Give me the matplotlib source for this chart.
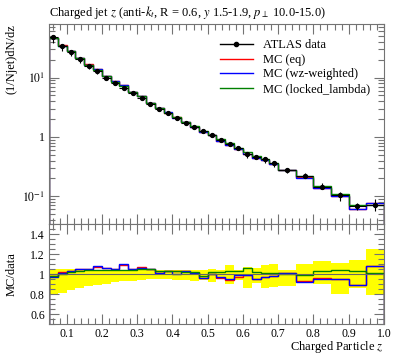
import numpy as np
import matplotlib
matplotlib.use("Agg")
import matplotlib.pyplot as plt
from matplotlib.lines import Line2D
from matplotlib.ticker import FixedLocator, FixedFormatter, MultipleLocator, LogLocator, NullFormatter

plt.rcParams['font.family'] = ['Liberation Serif', 'DejaVu Serif']
plt.rcParams['mathtext.fontset'] = 'stix'

# bin edges: 0.025 wide up to 0.7, then 0.05 wide
edges = np.array([0.05 + 0.025 * i for i in range(27)] + [0.75, 0.8, 0.85, 0.9, 0.95, 1.0])

# data (1/Njet) dN/dz
data = np.array([48, 34.4, 27.5, 20.5, 15.8, 13.0, 10.0, 8.2, 6.8, 5.4, 4.6, 3.6, 3.0,
                 2.5, 2.1, 1.73, 1.48, 1.26, 1.07, 0.90, 0.77, 0.64, 0.52, 0.465, 0.42, 0.36,
                 0.28, 0.224, 0.146, 0.106, 0.068, 0.072])

# relative data uncertainty band (lower / upper edge of ratio)
band_lo = np.array([0.79, 0.81, 0.84, 0.86, 0.885, 0.895, 0.905, 0.92, 0.93, 0.93, 0.937, 0.948, 0.955,
                    0.948, 0.94, 0.937, 0.93, 0.945, 0.925, 0.95, 0.90, 0.94, 0.86, 0.914, 0.86, 0.87,
                    0.88, 0.93, 0.90, 0.80, 0.86, 0.794])
band_hi = np.array([1.05, 1.05, 1.05, 1.05, 1.045, 1.04, 1.04, 1.04, 1.04, 1.04, 1.04, 1.04, 1.04,
                    1.04, 1.04, 1.045, 1.045, 1.045, 1.05, 1.045, 1.086, 1.04, 1.07, 1.06, 1.093, 1.10,
                    1.04, 1.10, 1.127, 1.11, 1.144, 1.25])

# MC / data ratios
r_eq = np.array([0.983, 1.017, 1.034, 1.05, 1.055, 1.07, 1.06, 1.05, 1.086, 1.055, 1.07, 1.055, 1.01,
                 1.03, 1.027, 1.027, 1.01, 0.965, 1.0, 0.96, 0.94, 0.975, 0.99, 0.95, 0.966, 0.98,
                 1.007, 0.93, 0.96, 0.95, 0.89, 1.076])
r_wz = np.array([0.973, 1.007, 1.027, 1.05, 1.05, 1.08, 1.06, 1.05, 1.096, 1.05, 1.06, 1.05, 1.007,
                 1.034, 1.0, 1.027, 1.007, 0.96, 1.0, 0.966, 0.95, 0.99, 0.99, 0.95, 0.966, 0.98,
                 1.007, 0.924, 0.95, 0.95, 0.89, 1.076])
r_ll = np.array([0.983, 1.0, 1.017, 1.034, 1.04, 1.045, 1.045, 1.045, 1.045, 1.045, 1.05, 1.05, 1.034,
                 1.027, 1.027, 1.017, 1.017, 0.983, 1.024, 1.024, 1.027, 1.027, 1.058, 1.024, 1.01, 1.01,
                 1.0, 0.99, 1.027, 1.045, 1.034, 1.01])

labels = ['ATLAS data', 'MC (eq)', 'MC (wz-weighted)', 'MC (locked_lambda)']
colors = ['red', 'blue', 'green']

centers = 0.5 * (edges[:-1] + edges[1:])
halfw = 0.5 * np.diff(edges)

fig = plt.figure(figsize=(3.97, 3.58), dpi=100)
ax = fig.add_axes([0.1234, 0.374, 0.8436, 0.559])
axr = fig.add_axes([0.1234, 0.095, 0.8436, 0.279], sharex=ax)

# main panel
for r, c in zip([r_eq, r_wz, r_ll], colors):
    ax.stairs(data * r, edges, color=c, lw=1.0)
ax.errorbar(centers, data, xerr=halfw,
            yerr=[data * (1 - band_lo), data * (band_hi - 1)],
            fmt='o', color='black', ms=2.8, lw=0.8, capsize=0)

ax.set_yscale('log')
ax.set_xlim(0.05, 1.0)
ax.set_ylim(0.034, 80)
ax.yaxis.set_major_locator(FixedLocator([0.1, 1, 10]))
ax.yaxis.set_major_formatter(FixedFormatter(['$10^{-1}$', '1', '$10^{1}$']))
ax.yaxis.set_minor_locator(LogLocator(base=10, subs=np.arange(2, 10)))
ax.yaxis.set_minor_formatter(NullFormatter())
plt.setp(ax.get_xticklabels(), visible=False)
ax.set_ylabel('(1/Njet)dN/dz', loc='top', fontsize=9)
ax.set_title('Charged jet $z$ (anti-$k_t$, R = 0.6, $y$ 1.5-1.9, $p_\\perp$ 10.0-15.0)',
             loc='left', fontsize=9, pad=6)

handles = [Line2D([], [], color='black', marker='o', ms=3, lw=1.0)]
handles += [Line2D([], [], color=c, lw=1.0) for c in colors]
ax.legend(handles, labels, loc='upper right',
          bbox_to_anchor=(0.98, 0.96), frameon=False, fontsize=9,
          handlelength=2.6, labelspacing=0.2, handletextpad=0.8, borderaxespad=0.2)

# ratio panel
axr.stairs(band_hi, edges, baseline=band_lo, fill=True, color='yellow', lw=0)
axr.axhline(1.0, color='0.4', lw=0.8)
for r, c in zip([r_eq, r_wz, r_ll], colors):
    axr.stairs(r, edges, color=c, lw=1.0)
axr.set_ylim(0.5, 1.5)
axr.yaxis.set_major_locator(FixedLocator([0.6, 0.8, 1.0, 1.2, 1.4]))
axr.yaxis.set_major_formatter(FixedFormatter(['0.6', '0.8', '1', '1.2', '1.4']))
axr.yaxis.set_minor_locator(MultipleLocator(0.05))
axr.xaxis.set_major_locator(MultipleLocator(0.1))
axr.xaxis.set_minor_locator(MultipleLocator(0.02))
axr.xaxis.set_major_formatter(plt.FuncFormatter(lambda v, p: '%.1f' % v))
axr.set_ylabel('MC/data', fontsize=9)
axr.set_xlabel('Charged Particle $z$', fontsize=9, ha='right')

for a in (ax, axr):
    a.tick_params(which='both', direction='in', top=True, right=True, labelsize=8.5, colors='0.45',
                  labelcolor='black', pad=3)
    a.tick_params(which='major', length=7.5, width=0.8)
    a.tick_params(which='minor', length=4, width=0.8)
    for s in a.spines.values():
        s.set_color('0.45')
        s.set_linewidth(0.8)
ax.yaxis.set_label_coords(-0.095, 1.0)
axr.yaxis.set_label_coords(-0.095, 0.5)
axr.xaxis.set_label_coords(1.0, -0.15)

fig.savefig('out.png', dpi=100)
